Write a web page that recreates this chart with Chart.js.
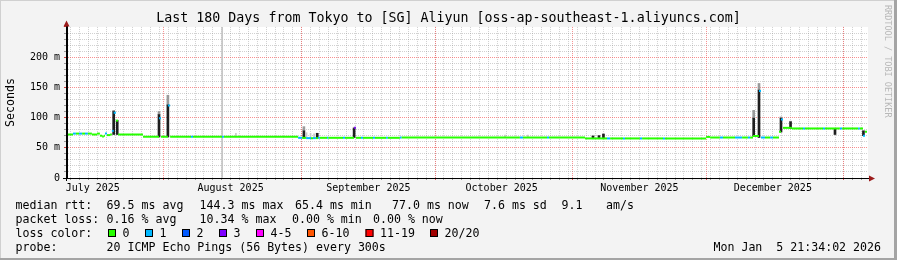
<!DOCTYPE html>
<html>
<head>
<meta charset="utf-8">
<title>SmokePing - Tokyo to SG Aliyun</title>
<script src="https://cdn.jsdelivr.net/npm/chart.js@4.4.1/dist/chart.umd.min.js"></script>
<style>
  html, body { margin: 0; padding: 0; background: #f3f3f3; }
  #wrap { width: 897px; height: 260px; }
</style>
</head>
<body>
<div id="wrap"><canvas id="graf" width="897" height="260"></canvas></div>
<script>
const MONO = 'DejaVu Sans Mono';

// ===== DATA (x = days since start of the 180 day window) =====
const titleText = 'Last 180 Days from Tokyo to [SG] Aliyun [oss-ap-southeast-1.aliyuncs.com]';

const monthStartDays = [21.8, 52.8, 82.8, 113.8, 143.8, 174.8];
const monthLabelDays = [5.8, 36.8, 67.8, 97.8, 128.8, 158.8];
const monthLabels = ['July 2025', 'August 2025', 'September 2025', 'October 2025', 'November 2025', 'December 2025'];

const yLabelValues = [0, 50, 100, 150, 200];
const yLabels = ['0', '50 m', '100 m', '150 m', '200 m'];

const lossLabels = ['0', '1', '2', '3', '4-5', '6-10', '11-19', '20/20'];
const lossColors = ['#26ff00', '#00b8ff', '#0059ff', '#7e00ff', '#ff00ff', '#ff5500', '#ff0000', '#a10000'];

// median rtt (ms), held until the next point; loss = index into lossColors
const medDay = [0, 0.2, 1.35, 2.0, 2.7, 3.4, 4.05, 4.7, 5.6, 6.75, 7.4, 7.9, 8.3, 8.55, 9.0, 9.7, 10.1, 10.5, 11.0, 11.5,
  17.1, 20.7, 21.15, 22.7, 23.2, 27.9, 28.35, 34.9, 35.3, 52.0, 52.9, 53.8, 54.9, 55.35, 56.0, 56.5, 56.9, 58.5, 58.8,
  62.1, 62.55, 64.6, 65.0, 66.15, 66.6, 68.85, 69.3, 71.8, 72.2, 74.9, 75.3, 101.9, 102.6, 108.0, 108.45, 116.55,
  121.5, 122.2, 125.1, 125.55, 128.9, 129.4, 134.1, 134.55, 143.8, 144.7, 146.9, 147.6, 150.3, 151.9, 153.2, 153.7,
  154.35, 155.7, 156.15, 157.05, 158.2, 158.85, 160.2, 160.65, 161.1, 163.1, 165.6, 166.05, 170.1, 170.55, 173.9,
  174.4, 178.0, 178.4, 179.1, 179.55, 180];
const medMs = [75, 72, 73.5, 73.5, 73.5, 73.5, 73.5, 73.5, 72, 73.5, 70, 68.5, 70, 73.5, 71, 72, 78, 108, 95, 72,
  68.3, 99, 68.3, 120, 68.3, 68.3, 68.3, 68.3, 68.3, 66.5, 66.5, 66, 66, 66, 66, 66.5, 66.5, 66.5, 66.5,
  66.5, 66.5, 83, 66.5, 66.5, 66.5, 66.5, 66.5, 66.5, 66.5, 67, 67, 67, 67, 67, 67, 65.5,
  65.5, 65.5, 65.5, 65.5, 65.5, 65.5, 65.5, 65.5, 68, 67, 67, 67, 67, 67, 67, 67,
  69.5, 144, 67, 67, 67, 67, 76.5, 97, 83, 82, 82, 82, 82, 82, 82,
  82, 82, 82, 70, 76.5, 77];
const medLoss = [1, 0, 1, 0, 1, 0, 1, 0, 0, 0, 0, 0, 0, 1, 0, 0, 1, 1, 0, 0,
  0, 1, 0, 1, 0, 1, 0, 1, 0, 1, 0, 1, 0, 1, 0, 1, 0, 1, 0,
  1, 0, 3, 0, 1, 0, 1, 0, 1, 0, 1, 0, 1, 0, 1, 0, 0,
  1, 0, 1, 0, 1, 0, 1, 0, 0, 0, 1, 0, 1, 0, 1, 0,
  0, 1, 1, 0, 1, 0, 0, 1, 0, 0, 1, 0, 1, 0, 1,
  0, 1, 0, 1, 0, 0];

// dark smoke (ping spread) and its lighter upper tip
const smokeDay = [10.5, 11.3, 20.7, 22.7, 53.3, 56.3, 64.6, 118.35, 119.7, 120.7, 154.5, 155.7, 160.65, 162.8, 172.8, 179.2];
const smokeLo = [72, 72, 68, 68, 66, 66, 67, 65, 65, 65, 69, 67, 76, 82, 72, 70];
const smokeHi = [110, 95, 105, 121, 78, 74, 82, 69.5, 70, 72.7, 99, 145.5, 99, 93, 82, 78];
const smokeTop = [112, 95, 110, 137, 85, 74, 84, 69.5, 70, 72.7, 112, 156.5, 101, 94, 82, 78];

// faint smoke
const faintDay = [38.0, 53.9, 54.8, 55.6, 98.55, 103.7];
const faintLo = [68, 66, 66, 66, 67, 67];
const faintHi = [74, 75, 74, 73, 71, 71];

// unknown data column
const gapDay = [34.9];

const rttStats = ['median rtt:', '69.5 ms avg', '144.3 ms max', '65.4 ms min', '77.0 ms now', '7.6 ms sd', '9.1', 'am/s'];
const lossStats = ['packet loss:', '0.16 % avg', '10.34 % max', '0.00 % min', '0.00 % now'];
const probeText = ['probe:', '20 ICMP Echo Pings (56 Bytes) every 300s'];
const stampText = 'Mon Jan  5 21:34:02 2026';

// ===== helpers =====
const yGridValues = [];
for (let v = 0; v <= 250; v += 10) yGridValues.push(v);
const minorDays = [];
for (let d = 0.8; d < 180; d += 2) minorDays.push(d);

const MAJOR = 'rgba(245,70,70,0.6)';
const MINOR = 'rgba(140,140,140,0.4)';

function gridColor(v) {
    if (v >= 250) return 'rgba(0,0,0,0)';
    return v % 50 === 0 ? MAJOR : MINOR;
}

// median as flat pieces, like rrdtool: no vertical joins between loss classes
const medianPts = [];
const medianLoss = [];
medDay.forEach((d, i) => {
    if (i === medDay.length - 1) return;
    medianPts.push({ x: d, y: medMs[i] }, { x: medDay[i + 1], y: medMs[i] }, { x: medDay[i + 1], y: null });
    medianLoss.push(medLoss[i], medLoss[i], medLoss[i]);
});
const smokePts = smokeDay.map((d, i) => ({ x: d, y: [smokeLo[i], smokeHi[i]] }));
const tipPts = smokeDay.map((d, i) => ({ x: d, y: [smokeHi[i], smokeTop[i]] }));
const faintPts = faintDay.map((d, i) => ({ x: d, y: [faintLo[i], faintHi[i]] }));
const gapPts = gapDay.map(d => ({ x: d, y: [0, 250] }));

// fundo cinzento + area branca
const plotBg = {
    id: 'plotBg',
    beforeDraw(chart) {
        const { ctx, chartArea: a } = chart;
        ctx.save();
        ctx.fillStyle = '#f3f3f3';
        ctx.fillRect(0, 0, chart.width, chart.height);
        ctx.fillStyle = '#ffffff';
        ctx.fillRect(a.left, a.top, a.right - a.left + 1, a.bottom - a.top);
        ctx.restore();
    }
};

// legend texts, arrows, frame
const rrdText = {
    id: 'rrdText',
    afterDraw(chart) {
        const { ctx, chartArea: a } = chart;
        ctx.save();

        // axis extensions
        ctx.strokeStyle = '#000';
        ctx.lineWidth = 1;
        ctx.beginPath();
        ctx.moveTo(63, a.bottom + 0.5);
        ctx.lineTo(a.right + 3, a.bottom + 0.5);
        ctx.moveTo(a.left - 0.5, a.bottom + 3);
        ctx.lineTo(a.left - 0.5, a.top - 3);
        ctx.stroke();

        // arrows
        ctx.fillStyle = '#9b1b1b';
        ctx.beginPath();
        ctx.moveTo(a.left - 0.5, a.top - 6.5);
        ctx.lineTo(a.left - 3.5, a.top - 0.5);
        ctx.lineTo(a.left + 2.5, a.top - 0.5);
        ctx.closePath();
        ctx.fill();
        ctx.beginPath();
        ctx.moveTo(a.right + 8, a.bottom + 0.5);
        ctx.lineTo(a.right + 2, a.bottom - 2.5);
        ctx.lineTo(a.right + 2, a.bottom + 3.5);
        ctx.closePath();
        ctx.fill();

        // legend
        ctx.fillStyle = '#000';
        ctx.font = '11.6px "' + MONO + '"';
        ctx.textBaseline = 'alphabetic';
        ctx.textAlign = 'left';
        const rttX = [15.5, 106.6, 199.6, 295, 392, 484, 561.6, 606];
        rttStats.forEach((t, i) => ctx.fillText(t, rttX[i], 208.5));
        const lossX = [15.5, 106.6, 199.6, 292, 373];
        lossStats.forEach((t, i) => ctx.fillText(t, lossX[i], 222.5));
        ctx.fillText('loss color:', 15.5, 236.5);
        const boxX = [108, 145, 182, 219, 256, 307, 365.5, 430];
        lossLabels.forEach((t, i) => {
            ctx.fillStyle = lossColors[i];
            ctx.fillRect(boxX[i], 229, 8, 8);
            ctx.strokeStyle = '#000';
            ctx.strokeRect(boxX[i] + 0.5, 229.5, 7, 7);
            ctx.fillStyle = '#000';
            ctx.fillText(t, boxX[i] + 14.5, 236.5);
        });
        ctx.fillText(probeText[0], 15.5, 250.5);
        ctx.fillText(probeText[1], 106.6, 250.5);
        ctx.textAlign = 'right';
        ctx.fillText(stampText, 881, 250.5);

        // watermark
        ctx.save();
        ctx.translate(887, 5);
        ctx.rotate(Math.PI / 2);
        ctx.font = '8.5px "' + MONO + '"';
        ctx.fillStyle = '#b8b8b8';
        ctx.textAlign = 'left';
        ctx.textBaseline = 'middle';
        ctx.fillText('RRDTOOL / TOBI OETIKER', 0, 0);
        ctx.restore();

        // 3D frame
        ctx.fillStyle = '#d0d0d0';
        ctx.fillRect(0, 0, chart.width, 1);
        ctx.fillRect(0, 0, 1, chart.height);
        ctx.fillStyle = '#a4a4a4';
        ctx.fillRect(0, chart.height - 2, chart.width, 2);
        ctx.fillRect(chart.width - 3, 0, 3, chart.height);
        ctx.restore();
    }
};

new Chart(document.getElementById('graf'), {
    type: 'line',
    data: {
        datasets: [
            {
                label: 'median rtt',
                data: medianPts,
                spanGaps: false,
                borderWidth: 2,
                borderCapStyle: 'butt',
                borderColor: lossColors[0],
                pointRadius: 0,
                order: 0,
                segment: { borderColor: c => lossColors[medianLoss[c.p0DataIndex]] }
            },
            { type: 'bar', label: 'smoke', data: smokePts, backgroundColor: '#1e1e1e', barThickness: 2, grouped: false, order: 1 },
            { type: 'bar', label: 'smoke tip', data: tipPts, backgroundColor: '#9a9a9a', barThickness: 2, grouped: false, order: 2 },
            { type: 'bar', label: 'faint', data: faintPts, backgroundColor: '#c8c8c8', barThickness: 1, grouped: false, order: 3 },
            { type: 'bar', label: 'unknown', data: gapPts, backgroundColor: '#c4c4c4', barThickness: 1, grouped: false, order: 4 }
        ]
    },
    options: {
        responsive: false,
        devicePixelRatio: 1,
        animation: false,
        events: [],
        layout: { padding: 0 },
        plugins: {
            legend: { display: false },
            tooltip: { enabled: false },
            title: {
                display: true,
                text: titleText,
                color: '#000',
                font: { family: MONO, size: 13.3, weight: 'normal' },
                padding: { top: 11, bottom: 0 }
            }
        },
        scales: {
            x: {
                type: 'linear', min: 0, max: 180, position: 'bottom', weight: 2, offset: false,
                afterFit: s => { s.height = 82; },
                afterBuildTicks: s => { s.ticks = monthLabelDays.map(v => ({ value: v })); },
                ticks: {
                    autoSkip: false, maxRotation: 0, padding: 4, color: '#000',
                    font: { family: MONO, size: 10 },
                    callback: (v, i) => monthLabels[i]
                },
                grid: { display: false, drawTicks: false },
                border: { display: true, color: '#000', width: 1 }
            },
            xMinor: {
                type: 'linear', min: 0, max: 180, position: 'bottom', weight: 0, offset: false,
                afterFit: s => { s.height = 0; },
                afterBuildTicks: s => { s.ticks = minorDays.map(v => ({ value: v })); },
                ticks: { display: false },
                grid: { color: MINOR, drawTicks: true, tickLength: 2, tickColor: '#999' },
                border: { display: false, dash: [1, 1] }
            },
            xMajor: {
                type: 'linear', min: 0, max: 180, position: 'bottom', weight: 1, offset: false,
                afterFit: s => { s.height = 0; },
                afterBuildTicks: s => { s.ticks = monthStartDays.map(v => ({ value: v })); },
                ticks: { display: false },
                grid: { color: MAJOR, drawTicks: true, tickLength: 2, tickColor: '#e05050' },
                border: { display: false, dash: [1, 1] }
            },
            y: {
                type: 'linear', min: 0, max: 250, position: 'left',
                afterFit: s => { s.width = 67; },
                afterBuildTicks: s => { s.ticks = yGridValues.map(v => ({ value: v })); },
                ticks: {
                    autoSkip: false, padding: 4, color: '#000',
                    font: { family: MONO, size: 10 },
                    callback: v => {
                        const i = yLabelValues.indexOf(v);
                        return i >= 0 ? yLabels[i] : '';
                    }
                },
                grid: {
                    color: c => gridColor(c.tick.value),
                    tickLength: 3,
                    tickColor: c => (c.tick.value % 50 === 0 ? '#d04040' : '#999')
                },
                border: { display: true, color: '#000', width: 1, dash: [1, 1] },
                title: {
                    display: true, text: 'Seconds', color: '#000',
                    font: { family: MONO, size: 11.6 },
                    padding: { top: 4, bottom: 0 }
                }
            },
            yR: {
                type: 'linear', min: 0, max: 1, position: 'right',
                afterFit: s => { s.width = 30; },
                ticks: { display: false },
                grid: { display: false },
                border: { display: false }
            }
        }
    },
    plugins: [plotBg, rrdText]
});
</script>
</body>
</html>
